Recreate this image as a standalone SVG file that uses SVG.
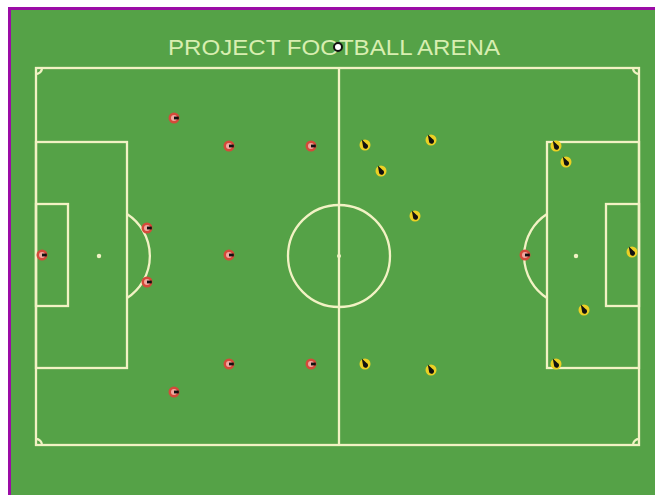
<svg xmlns="http://www.w3.org/2000/svg" xmlns:xlink="http://www.w3.org/1999/xlink" width="655" height="495" viewBox="0 0 655 495">
<style>
.ln{fill:none;stroke:#f2f2c4;stroke-width:2.3}
.title{font-family:"Liberation Sans",Arial,sans-serif;font-size:22px;fill:#d8eeb0}
</style>
<defs>
<g id="red">
<circle r="5.5" fill="#d44a3a"/>
<circle r="3" fill="#f0a8a0"/>
<rect x="0" y="-1.4" width="4.8" height="2.8" fill="#111"/>
</g>
<g id="yel">
<circle r="5.5" fill="#ecd024"/>
<path d="M-3.2,-5.6 L1.6,-1 A2.5,2.5 0 1 1 -1.9,1.7 Z" fill="#111"/>
</g>
</defs>
<rect x="0" y="0" width="655" height="495" fill="#ffffff"/>
<rect x="8" y="7" width="647" height="488" fill="#55a247"/>
<rect x="8" y="7" width="3" height="488" fill="#9b0ca6"/>
<rect x="8" y="7" width="647" height="3" fill="#9b0ca6"/>
<g id="pitch">
<rect class="ln" x="36" y="68" width="603" height="377"/>
<line class="ln" x1="339" y1="68" x2="339" y2="445"/>
<circle class="ln" cx="339" cy="256" r="51"/>
<circle cx="339" cy="256" r="2" fill="#f2f2c4"/>
<rect class="ln" x="36" y="142" width="91" height="226"/>
<rect class="ln" x="36" y="204" width="32" height="102"/>
<circle cx="99" cy="256" r="2.2" fill="#f2f2c4"/>
<path class="ln" d="M127,214 A50,50 0 0 1 127,298"/>
<rect class="ln" x="547" y="142" width="92" height="226"/>
<rect class="ln" x="606" y="204" width="33" height="102"/>
<circle cx="576" cy="256" r="2.2" fill="#f2f2c4"/>
<path class="ln" d="M547,214 A50,50 0 0 0 547,298"/>
<path class="ln" d="M36,74 A6,6 0 0 0 42,68"/>
<path class="ln" d="M633,68 A6,6 0 0 0 639,74"/>
<path class="ln" d="M36,439 A6,6 0 0 1 42,445"/>
<path class="ln" d="M633,445 A6,6 0 0 1 639,439"/>
</g>
<text class="title" x="334" y="55" text-anchor="middle" textLength="332" lengthAdjust="spacingAndGlyphs">PROJECT FOOTBALL ARENA</text>
<g id="ball"><circle cx="338" cy="47" r="4" fill="#fff" stroke="#111" stroke-width="2"/></g>
<g id="red-team">
<use id="r1" xlink:href="#red" x="174" y="118"/>
<use id="r2" xlink:href="#red" x="229" y="146"/>
<use id="r3" xlink:href="#red" x="311" y="146"/>
<use id="r4" xlink:href="#red" x="147" y="228"/>
<use id="r5" xlink:href="#red" x="42" y="255"/>
<use id="r6" xlink:href="#red" x="229" y="255"/>
<use id="r7" xlink:href="#red" x="147" y="282"/>
<use id="r8" xlink:href="#red" x="229" y="364"/>
<use id="r9" xlink:href="#red" x="311" y="364"/>
<use id="r10" xlink:href="#red" x="174" y="392"/>
<use id="r11" xlink:href="#red" x="525" y="255"/>
</g>
<g id="yellow-team">
<use id="y1" xlink:href="#yel" x="365" y="145"/>
<use id="y2" xlink:href="#yel" x="431" y="140"/>
<use id="y3" xlink:href="#yel" x="381" y="171"/>
<use id="y4" xlink:href="#yel" x="415" y="216"/>
<use id="y5" xlink:href="#yel" x="556" y="146"/>
<use id="y6" xlink:href="#yel" x="566" y="162"/>
<use id="y7" xlink:href="#yel" x="632" y="252"/>
<use id="y8" xlink:href="#yel" x="584" y="310"/>
<use id="y9" xlink:href="#yel" x="365" y="364"/>
<use id="y10" xlink:href="#yel" x="431" y="370"/>
<use id="y11" xlink:href="#yel" x="556" y="364"/>
</g>
<g id="connectors"/>
</svg>
